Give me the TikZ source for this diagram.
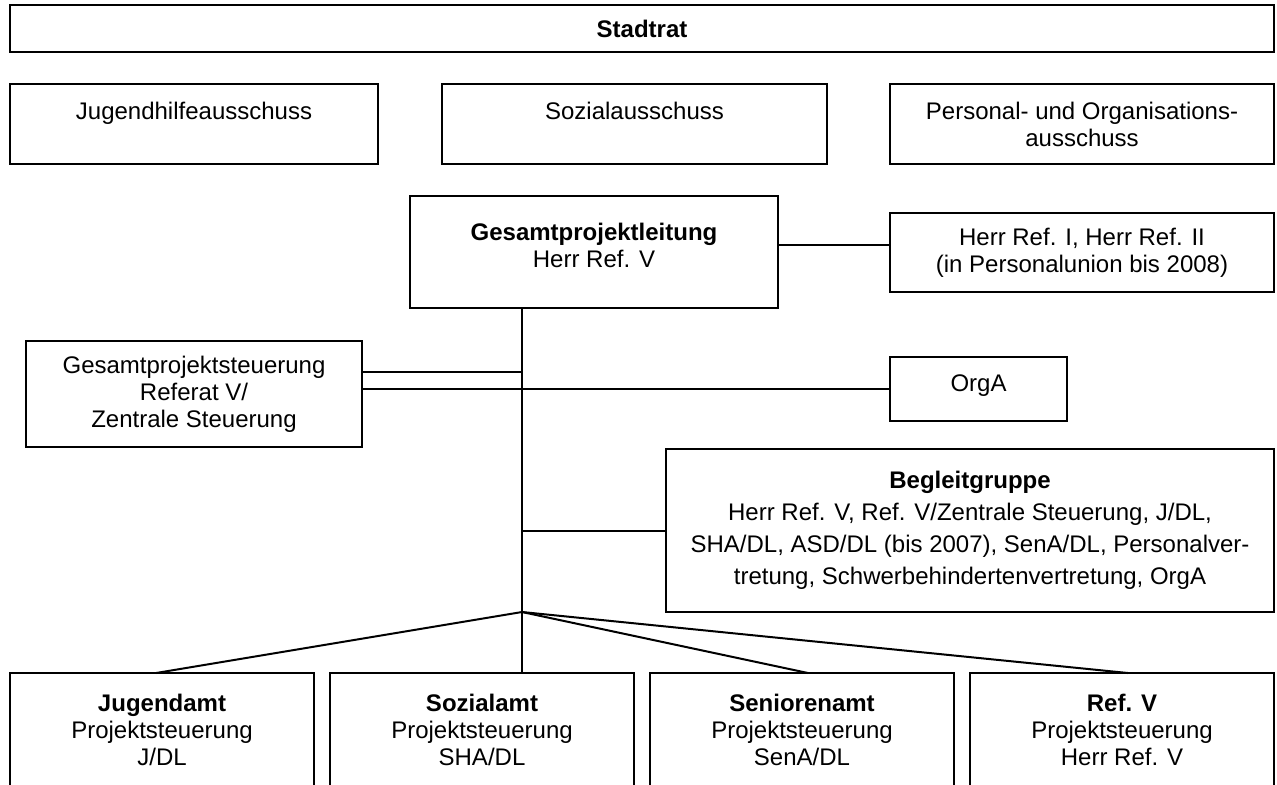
\documentclass[tikz,border=0pt]{standalone}
\usepackage{fontspec}
\setmainfont{Liberation Sans}
\usetikzlibrary{positioning}

\begin{document}
\begin{tikzpicture}[x=0.5pt, y=-0.5pt,
        box/.style={draw, line width=1pt, outer sep=0pt, inner sep=0pt, align=center, font=\fontsize{12}{13.5}\selectfont},
        con/.style={line width=1pt}
      ]
        \useasboundingbox (0,0) rectangle (1277,784);
        \clip (0,0) rectangle (1277,784);

        \node[box, anchor=north west, minimum width=632pt, minimum height=23.5pt] (rat) at (10,5) {\textbf{Stadtrat}};

        \node[box, anchor=north west, minimum width=184pt, minimum height=40pt] (jha) at (10,84) {Jugendhilfeausschuss\\~};
        \node[box, right=32pt of jha, minimum width=192.5pt, minimum height=40pt] (sa) {Sozialausschuss\\~};
        \node[box, right=31.5pt of sa, minimum width=192pt, minimum height=40pt] (poa) {Personal- und Organisations-\\ausschuss};

        \node[box, anchor=north west, minimum width=184pt, minimum height=56pt] (gpl) at (410,196) {\textbf{Gesamtprojektleitung}\\Herr Ref. V\\[-6.7pt]~};
        \node[box, anchor=north west, minimum width=192pt, minimum height=39.5pt] (herr) at (890,213) {Herr Ref. I, Herr Ref. II\\(in Personalunion bis 2008)};
        \node[box, anchor=north west, minimum width=168pt, minimum height=53pt] (gps) at (26,341) {Gesamtprojektsteuerung\\Referat V/\\Zentrale Steuerung};
        \node[box, anchor=north west, minimum width=88.5pt, minimum height=32pt] (orga) at (890,357) {OrgA\\[-7.5pt]~};
        \node[box, anchor=north west, minimum width=304pt, minimum height=81.5pt, font=\fontsize{12}{16}\selectfont] (begl) at (666,449) {\textbf{Begleitgruppe}\\Herr Ref. V, Ref. V/Zentrale Steuerung, J/DL,\\SHA/DL, ASD/DL (bis 2007), SenA/DL, Personalver-\\tretung, Schwerbehindertenvertretung, OrgA};

        \node[box, anchor=north west, minimum width=152pt, minimum height=56.5pt] (jug) at (10,673) {\textbf{Jugendamt}\\Projektsteuerung\\J/DL};
        \node[box, right=8pt of jug, minimum width=152pt, minimum height=56.5pt] (soz) {\textbf{Sozialamt}\\Projektsteuerung\\SHA/DL};
        \node[box, right=8pt of soz, minimum width=152pt, minimum height=56.5pt] (sen) {\textbf{Seniorenamt}\\Projektsteuerung\\SenA/DL};
        \node[box, right=8pt of sen, minimum width=152pt, minimum height=56.5pt] (ref) {\textbf{Ref. V}\\Projektsteuerung\\Herr Ref. V};

        \coordinate (apex) at (522,612);
        \draw[con] (gpl.south -| apex) -- (apex) -- (soz.north -| apex);
        \draw[con] ([yshift=3.5]gpl.east) coordinate (h1) -- (h1 -| herr.west);
        \draw[con] ([yshift=11]gps.east) coordinate (g1) -- (g1 -| apex);
        \draw[con] (gps.east |- orga.west) -- (orga.west);
        \draw[con] (begl.west -| apex) -- (begl.west);
        \draw[con] (apex) -- ([xshift=-3]jug.north);
        \draw[con] (apex) -- ([xshift=3]sen.north);
        \draw[con] (apex) -- ([xshift=3]ref.north);
      \end{tikzpicture}
\end{document}
